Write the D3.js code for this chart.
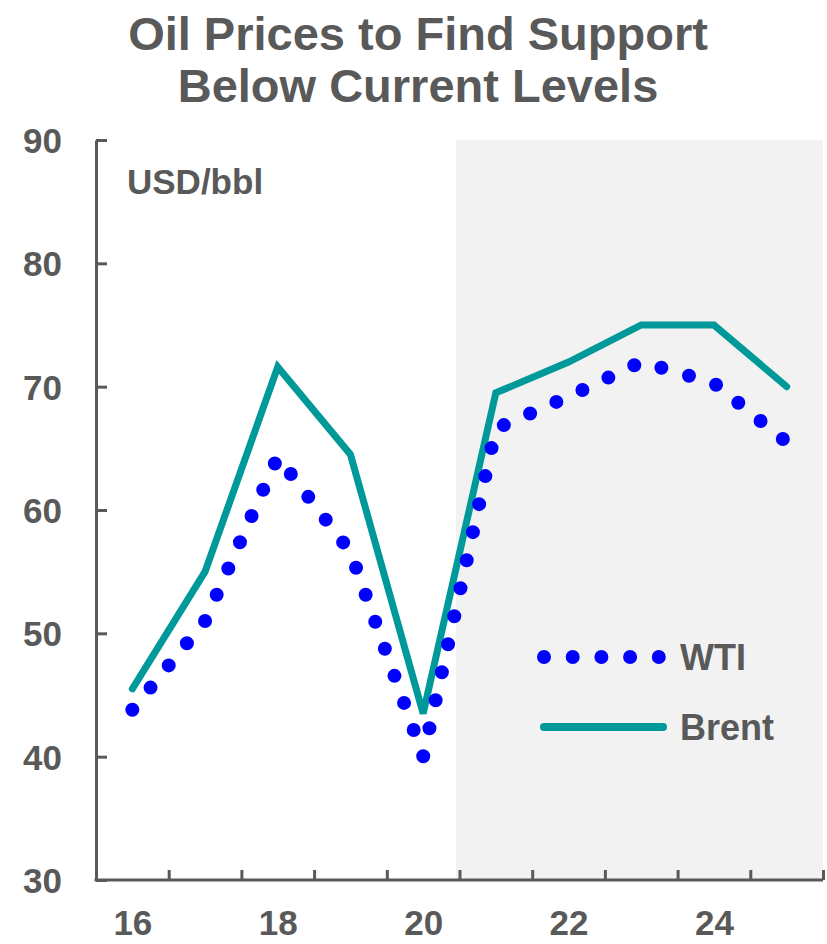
<!DOCTYPE html>
<html>
<head>
<meta charset="utf-8">
<script src="https://cdn.jsdelivr.net/npm/d3@7"></script>
<style>
  html, body { margin: 0; padding: 0; background: #ffffff; }
  svg { display: block; }
  text { font-family: "Liberation Sans", Arial, sans-serif; font-weight: bold; fill: #595959; }
</style>
</head>
<body>
<svg id="chart" width="827" height="944"></svg>
<script>
// ---- data ----
const years = [2016, 2017, 2018, 2019, 2020, 2021, 2022, 2023, 2024, 2025];
const wti   = [43.8, 51.0, 64.3, 56.6, 40.0, 66.6, 69.2, 72.0, 70.3, 65.5];
const brent = [45.5, 55.0, 71.6, 64.5, 43.5, 69.5, 72.0, 75.0, 75.0, 70.0];
const yTicks = [30, 40, 50, 60, 70, 80, 90];
const xLabelYears = [2016, 2018, 2020, 2022, 2024];
const forecastStart = 2020.45;
const titleLines = ["Oil Prices to Find Support", "Below Current Levels"];
const unitLabel = "USD/bbl";
const seriesNames = ["WTI", "Brent"];

// ---- layout ----
const svg = d3.select("#chart");
const plotLeft = 96, plotRight = 823, plotTop = 140, plotBottom = 880;
const grey = "#595959";
const wtiColor = "#0000ff";
const brentColor = "#009999";

const x = d3.scaleLinear().domain([years[0] - 0.5, years[years.length - 1] + 0.5]).range([plotLeft, plotRight]);
const y = d3.scaleLinear().domain([30, 90]).range([plotBottom, plotTop]);

// forecast shading
svg.append("rect")
  .attr("x", x(forecastStart)).attr("y", y(90))
  .attr("width", x(years[years.length - 1] + 0.5) - x(forecastStart))
  .attr("height", y(30) - y(90))
  .attr("fill", "#f2f2f2");

// title
svg.append("text")
  .attr("text-anchor", "middle")
  .style("font-size", "47px")
  .selectAll("tspan").data(titleLines).join("tspan")
  .attr("x", 418).attr("y", (d, i) => 50 + i * 51.5)
  .text(d => d);

// y axis
const yAxis = d3.axisLeft(y).tickValues(yTicks).tickSizeInner(-11).tickSizeOuter(0).tickPadding(34);
const gy = svg.append("g").attr("transform", `translate(${plotLeft},0)`).call(yAxis);
gy.select(".domain").attr("stroke", grey).attr("stroke-width", 3);
gy.selectAll(".tick line").attr("stroke", grey).attr("stroke-width", 3);
gy.selectAll(".tick text").attr("fill", grey).style("font-size", "35px").style("font-family", "Liberation Sans, Arial, sans-serif").style("font-weight", "bold").attr("dy", "0.36em");

// x axis: ticks at year boundaries
const boundaries = d3.range(years[0] + 0.5, years[years.length - 1] + 1, 1);
const xAxisTicks = d3.axisBottom(x).tickValues(boundaries).tickSizeInner(-10).tickSizeOuter(0).tickFormat("");
const gx = svg.append("g").attr("transform", `translate(0,${plotBottom})`).call(xAxisTicks);
gx.select(".domain").attr("stroke", grey).attr("stroke-width", 3).attr("d", `M${plotLeft - 1.5},0H${plotRight}`);
gx.selectAll(".tick line").attr("stroke", grey).attr("stroke-width", 3);

// x labels
const xAxisLabels = d3.axisBottom(x).tickValues(xLabelYears).tickSize(0).tickPadding(0).tickFormat(d => String(d).slice(2));
const gxl = svg.append("g").attr("transform", `translate(0,${plotBottom})`).call(xAxisLabels);
gxl.select(".domain").remove();
gxl.selectAll(".tick text").attr("fill", grey).style("font-size", "35px").style("font-family", "Liberation Sans, Arial, sans-serif").style("font-weight", "bold").attr("y", 55).attr("dy", null);

// unit label
svg.append("text").attr("x", 127).attr("y", 194).style("font-size", "35px").text(unitLabel);

// lines
const line = d3.line().x((d, i) => x(years[i])).y(d => y(d));
svg.append("path").datum(brent).attr("d", line)
  .attr("fill", "none").attr("stroke", brentColor).attr("stroke-width", 7)
  .attr("stroke-linejoin", "miter").attr("stroke-linecap", "round");
svg.append("path").datum(wti).attr("d", line)
  .attr("fill", "none").attr("stroke", wtiColor).attr("stroke-width", 14)
  .attr("stroke-dasharray", "0 28.7").attr("stroke-linecap", "round");

// legend
const lg = svg.append("g");
lg.append("path").attr("d", "M544,657H661")
  .attr("fill", "none").attr("stroke", wtiColor).attr("stroke-width", 14)
  .attr("stroke-dasharray", "0 28.7").attr("stroke-linecap", "round");
lg.append("text").attr("x", 680).attr("y", 670).style("font-size", "36px").text(seriesNames[0]);
lg.append("path").attr("d", "M544,727H663")
  .attr("fill", "none").attr("stroke", brentColor).attr("stroke-width", 8).attr("stroke-linecap", "round");
lg.append("text").attr("x", 680).attr("y", 740).style("font-size", "36px").text(seriesNames[1]);
</script>
</body>
</html>
